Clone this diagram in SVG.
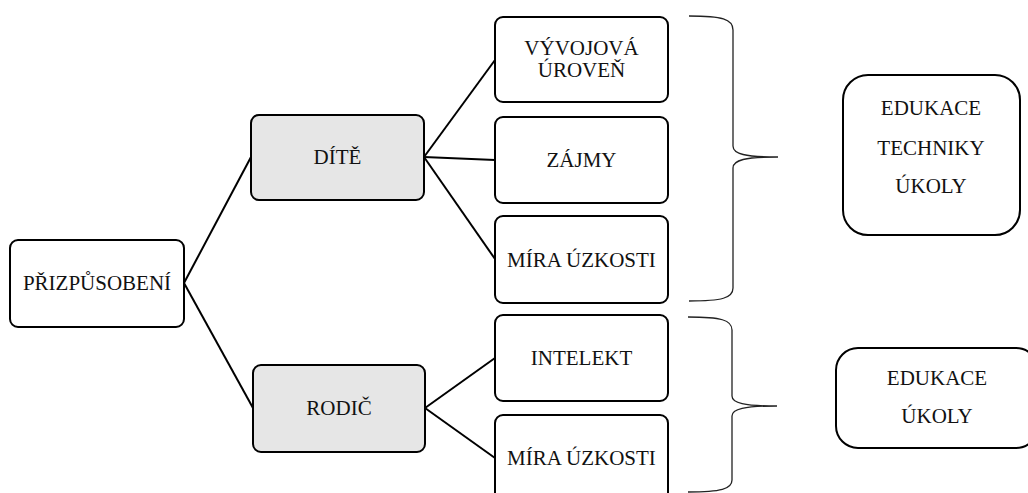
<svg xmlns="http://www.w3.org/2000/svg" width="1028" height="493" viewBox="0 0 1028 493">
<style>
.box{fill:#ffffff;stroke:#000;stroke-width:2}
.grey{fill:#e6e6e6;stroke:#000;stroke-width:2}
.t{font-family:"Liberation Serif","Times New Roman",serif;font-size:21px;fill:#111;text-anchor:middle}
.ln{stroke:#000;stroke-width:2;fill:none}
.br{stroke:#222;stroke-width:1.3;fill:none}
</style>
<rect width="1028" height="493" fill="#fff"/>
<g id="connectors">
<line class="ln" x1="184" y1="283" x2="251" y2="157"/>
<line class="ln" x1="184" y1="283" x2="253" y2="408"/>
<line class="ln" x1="424" y1="157" x2="495" y2="60"/>
<line class="ln" x1="424" y1="157" x2="495" y2="160"/>
<line class="ln" x1="424" y1="157" x2="495" y2="259"/>
<line class="ln" x1="425" y1="408" x2="495" y2="358"/>
<line class="ln" x1="425" y1="408" x2="495" y2="458"/>
</g>
<g id="brace1">
<path class="br" d="M689,16 C722,16 733,19 733,30 L733,146 C733,154 745,157 778,157 C745,157 733,160 733,168 L733,288 C733,298 722,301 689,301"/>
</g>
<g id="brace2">
<path class="br" d="M688,317 C721,317 732,320 732,330 L732,396 C732,403 744,406 777,406 C744,406 732,409 732,416 L732,480 C732,489 721,492 688,492"/>
</g>
<g id="n-prizpusobeni">
<rect class="box" x="10" y="240" width="174" height="87" rx="8"/>
<text class="t" x="97" y="290">PŘIZPŮSOBENÍ</text>
</g>
<g id="n-dite">
<rect class="grey" x="251" y="115" width="173" height="85" rx="8"/>
<text class="t" x="337.5" y="164">DÍTĚ</text>
</g>
<g id="n-rodic">
<rect class="grey" x="253" y="365" width="172" height="87" rx="8"/>
<text class="t" x="339" y="415">RODIČ</text>
</g>
<g id="n-vyvojova">
<rect class="box" x="495" y="17" width="173" height="85" rx="8"/>
<text class="t" x="581.5" y="55">VÝVOJOVÁ</text>
<text class="t" x="581.5" y="77">ÚROVEŇ</text>
</g>
<g id="n-zajmy">
<rect class="box" x="495" y="117" width="173" height="86" rx="8"/>
<text class="t" x="581.5" y="167">ZÁJMY</text>
</g>
<g id="n-mira1">
<rect class="box" x="495" y="216" width="173" height="87" rx="8"/>
<text class="t" x="581.5" y="267">MÍRA ÚZKOSTI</text>
</g>
<g id="n-intelekt">
<rect class="box" x="495" y="315" width="173" height="86" rx="8"/>
<text class="t" x="581.5" y="365">INTELEKT</text>
</g>
<g id="n-mira2">
<rect class="box" x="495" y="415" width="173" height="90" rx="8"/>
<text class="t" x="581.5" y="465">MÍRA ÚZKOSTI</text>
</g>
<g id="n-edukace1">
<rect class="box" x="843" y="75" width="177" height="160" rx="25"/>
<text class="t" x="931" y="115">EDUKACE</text>
<text class="t" x="931" y="155">TECHNIKY</text>
<text class="t" x="931" y="193">ÚKOLY</text>
</g>
<g id="n-edukace2">
<rect class="box" x="836" y="348" width="202" height="100" rx="22"/>
<text class="t" x="937" y="385">EDUKACE</text>
<text class="t" x="937" y="423">ÚKOLY</text>
</g>
</svg>
